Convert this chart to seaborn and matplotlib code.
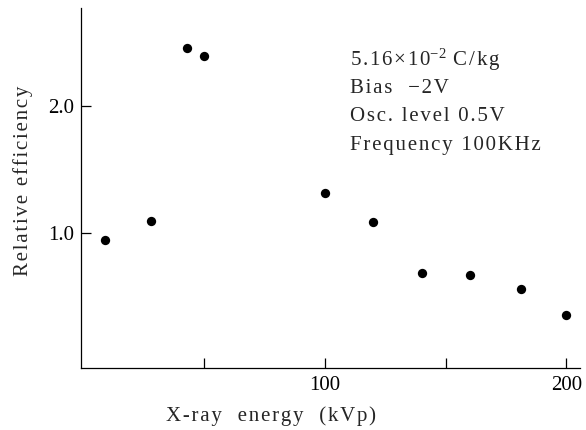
import matplotlib
matplotlib.use('Agg')
import matplotlib.pyplot as plt
import seaborn as sns
import pandas as pd

# data
energy_kvp = [9, 28, 43, 50, 100, 120, 140, 160, 181, 200]
rel_eff = [0.945, 1.10, 2.46, 2.39, 1.32, 1.085, 0.685, 0.675, 0.56, 0.355]

x_ticks = [50, 100, 150, 200]
x_tick_labels = ['', '100', '', '200']
y_ticks = [1.0, 2.0]
y_tick_labels = ['1.0', '2.0']

HAIR = '\u200a'


def spaced(s):
    # the original typesetting puts a little air between every letter
    return HAIR.join(s)


note_lines = [
    spaced('5.16×10') + '$^{-2}$' + spaced(' C/kg'),
    spaced('Bias  −2V'),
    spaced('Osc. level 0.5V'),
    spaced('Frequency 100KHz'),
]

sns.set_style('ticks')
plt.rcParams['font.family'] = ['Liberation Serif', 'DejaVu Serif']
plt.rcParams['mathtext.fontset'] = 'custom'
plt.rcParams['mathtext.rm'] = 'Liberation Serif'
plt.rcParams['mathtext.it'] = 'Liberation Serif:italic'

df = pd.DataFrame({'energy': energy_kvp, 'eff': rel_eff})

fig = plt.figure(figsize=(5.86, 4.30), dpi=100)
ax = fig.add_axes([0.138, 0.144, 0.852, 0.837])

sns.scatterplot(data=df, x='energy', y='eff', ax=ax, color='black',
                s=45, edgecolor='black', linewidth=0, legend=False)

ax.set_xlim(-1.1, 205.7)
ax.set_ylim(-0.06, 2.77)
ax.set_xticks(x_ticks)
ax.set_xticklabels(x_tick_labels)
ax.set_yticks(y_ticks)
ax.set_yticklabels(y_tick_labels)
ax.tick_params(direction='in', length=7, width=0.9, labelsize=15,
               colors='black', pad=6)
ax.tick_params(axis='y', pad=5)

for side in ['top', 'right']:
    ax.spines[side].set_visible(False)
for side in ['left', 'bottom']:
    ax.spines[side].set_linewidth(0.9)
    ax.spines[side].set_color('black')

ax.set_xlabel(spaced('X-ray  energy  (kVp)'), fontsize=15)
ax.set_ylabel(spaced('Relative efficiency'), fontsize=15)
ax.xaxis.set_label_coords(0.38, -0.105)
ax.yaxis.set_label_coords(-0.096, 0.52)

for i, line in enumerate(note_lines):
    ax.text(0.54, 0.855 - i * 0.0785, line, transform=ax.transAxes,
            fontsize=15, ha='left', va='center')

fig.savefig('out.png', dpi=100)
